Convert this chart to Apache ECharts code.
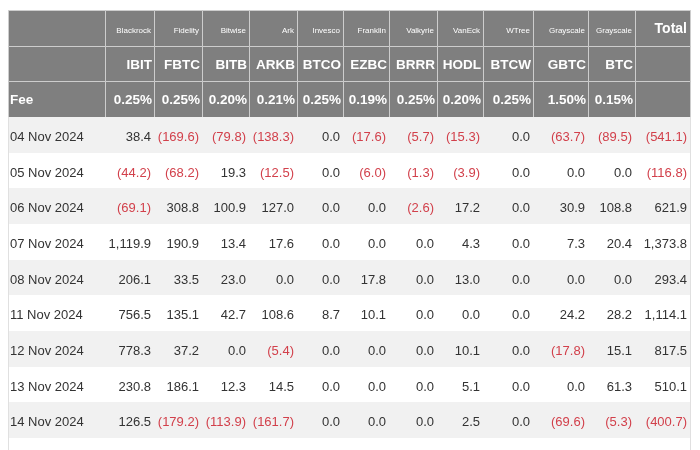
<!DOCTYPE html>
<html>
<head>
<meta charset="utf-8">
<script src="https://cdn.jsdelivr.net/npm/echarts@6/dist/echarts.min.js"></script>
<style>
html,body{margin:0;padding:0;background:#fff;}
#chart{width:700px;height:450px;}
</style>
</head>
<body>
<div id="chart"></div>
<script>
// ---- data ----
const dates = ['04 Nov 2024','05 Nov 2024','06 Nov 2024','07 Nov 2024','08 Nov 2024','11 Nov 2024','12 Nov 2024','13 Nov 2024','14 Nov 2024'];
const issuers = ['Blackrock','Fidelity','Bitwise','Ark','Invesco','Franklin','Valkyrie','VanEck','WTree','Grayscale','Grayscale'];
const tickers = ['IBIT','FBTC','BITB','ARKB','BTCO','EZBC','BRRR','HODL','BTCW','GBTC','BTC'];
const fees = ['0.25%','0.25%','0.20%','0.21%','0.25%','0.19%','0.25%','0.20%','0.25%','1.50%','0.15%'];
const IBIT = [38.4, -44.2, -69.1, 1119.9, 206.1, 756.5, 778.3, 230.8, 126.5];
const FBTC = [-169.6, -68.2, 308.8, 190.9, 33.5, 135.1, 37.2, 186.1, -179.2];
const BITB = [-79.8, 19.3, 100.9, 13.4, 23.0, 42.7, 0.0, 12.3, -113.9];
const ARKB = [-138.3, -12.5, 127.0, 17.6, 0.0, 108.6, -5.4, 14.5, -161.7];
const BTCO = [0.0, 0.0, 0.0, 0.0, 0.0, 8.7, 0.0, 0.0, 0.0];
const EZBC = [-17.6, -6.0, 0.0, 0.0, 17.8, 10.1, 0.0, 0.0, 0.0];
const BRRR = [-5.7, -1.3, -2.6, 0.0, 0.0, 0.0, 0.0, 0.0, 0.0];
const HODL = [-15.3, -3.9, 17.2, 4.3, 13.0, 0.0, 10.1, 5.1, 2.5];
const BTCW = [0.0, 0.0, 0.0, 0.0, 0.0, 0.0, 0.0, 0.0, 0.0];
const GBTC = [-63.7, 0.0, 30.9, 7.3, 0.0, 24.2, -17.8, 0.0, -69.6];
const BTC  = [-89.5, 0.0, 108.8, 20.4, 0.0, 28.2, 15.1, 61.3, -5.3];
const totals = [-541.1, -116.8, 621.9, 1373.8, 293.4, 1114.1, 817.5, 510.1, -400.7];
const flows = [IBIT, FBTC, BITB, ARKB, BTCO, EZBC, BRRR, HODL, BTCW, GBTC, BTC];

// ---- layout (column edges in px units along the x value axis) ----
const colEdges = [0, 97, 146, 194, 241, 289, 335, 381, 429, 475, 525, 580, 627, 682];
const FONT = '"Liberation Sans", Arial, Helvetica, sans-serif';
const HEAD_BG = '#7f7f7f', HEAD_LINE = '#cdcdcd', ROW_ALT = '#f1f1f1';
const TXT = '#333333', RED = '#d2404b', BORDER = '#e0e0e0';

function fmt(v) {
  const s = Math.abs(v).toLocaleString('en-US', {minimumFractionDigits: 1, maximumFractionDigits: 1});
  return v < 0 ? '(' + s + ')' : s;
}

// ---- cells ----
const cells = [];
const nCols = colEdges.length - 1;
for (let c = 0; c < nCols; c++) {
  let t0 = '', t1 = '', t2 = '';
  if (c === 0) { t2 = 'Fee'; }
  else if (c === nCols - 1) { t0 = 'Total'; }
  else { t0 = issuers[c - 1]; t1 = tickers[c - 1]; t2 = fees[c - 1]; }
  cells.push({col: c, row: 0, text: t0, kind: c === nCols - 1 ? 'headBig' : 'headSmall'});
  cells.push({col: c, row: 1, text: t1, kind: 'head'});
  cells.push({col: c, row: 2, text: t2, kind: c === 0 ? 'headLeft' : 'headFee'});
}
dates.forEach((d, i) => {
  const r = 3 + i;
  cells.push({col: 0, row: r, text: d, kind: 'date', alt: i % 2 === 0});
  flows.forEach((arr, j) => {
    cells.push({col: j + 1, row: r, text: fmt(arr[i]), neg: arr[i] < 0, kind: 'num', alt: i % 2 === 0});
  });
  cells.push({col: nCols - 1, row: r, text: fmt(totals[i]), neg: totals[i] < 0, kind: 'num', alt: i % 2 === 0});
});
for (let c = 0; c < nCols; c++) cells.push({col: c, row: 12, text: '', kind: 'blank', alt: false});

function renderItem(params, api) {
  const c = cells[params.dataIndex];
  const p0 = api.coord([colEdges[c.col], c.row]);
  const p1 = api.coord([colEdges[c.col + 1], c.row + 1]);
  const x0 = Math.round(p0[0]), x1 = Math.round(p1[0]);
  const y0 = Math.round(p0[1]), y1 = Math.round(p1[1]);
  const ym = (p0[1] + p1[1]) / 2;
  const children = [];
  if (c.row < 3) {
    children.push({type: 'rect', shape: {x: x0 + 0.5, y: y0 + 0.5, width: x1 - x0, height: y1 - y0},
      style: {fill: HEAD_BG, stroke: HEAD_LINE, lineWidth: 1}});
  } else {
    children.push({type: 'rect', shape: {x: x0, y: y0, width: x1 - x0, height: y1 - y0},
      style: {fill: c.alt ? ROW_ALT : '#ffffff'}});
    if (c.col === 0) children.push({type: 'line', shape: {x1: x0 + 0.5, y1: y0, x2: x0 + 0.5, y2: y1}, style: {stroke: BORDER, lineWidth: 1}});
    if (c.col === nCols - 1) children.push({type: 'line', shape: {x1: x1 + 0.5, y1: y0, x2: x1 + 0.5, y2: y1}, style: {stroke: BORDER, lineWidth: 1}});
  }
  if (c.text) {
    const st = {text: c.text, fontFamily: FONT, verticalAlign: 'middle'};
    if (c.kind === 'headSmall') {
      Object.assign(st, {x: x1 - 3, y: ym + 3, align: 'right', fill: '#ffffff', fontSize: 8});
    } else if (c.kind === 'headBig') {
      Object.assign(st, {x: x1 - 3, y: ym + 1, align: 'right', fill: '#ffffff', fontSize: 14, fontWeight: 'bold'});
    } else if (c.kind === 'head') {
      Object.assign(st, {x: x1 - 2, y: ym + 2, align: 'right', fill: '#ffffff', fontSize: 13.5, fontWeight: 'bold'});
    } else if (c.kind === 'headFee') {
      Object.assign(st, {x: x1 - 2, y: ym + 1.5, align: 'right', fill: '#ffffff', fontSize: 13.5, fontWeight: 'bold'});
    } else if (c.kind === 'headLeft') {
      Object.assign(st, {x: x0 + 2, y: ym + 1.5, align: 'left', fill: '#ffffff', fontSize: 13.5, fontWeight: 'bold'});
    } else if (c.kind === 'date') {
      Object.assign(st, {x: x0 + 2, y: ym + 2.5, align: 'left', fill: TXT, fontSize: 13});
    } else {
      Object.assign(st, {x: x1 - 3, y: ym + 2.5, align: 'right', fill: c.neg ? RED : TXT, fontSize: 13});
    }
    children.push({type: 'text', style: st});
  }
  return {type: 'group', children: children};
}

const chart = echarts.init(document.getElementById('chart'), null, {renderer: 'canvas'});
chart.setOption({
  animation: false,
  backgroundColor: '#ffffff',
  grid: {left: 8, right: 10, top: 10, bottom: 12},
  xAxis: {type: 'value', min: 0, max: colEdges[colEdges.length - 1], show: false},
  yAxis: {type: 'value', min: 0, max: 12, inverse: true, show: false},
  series: [{
    type: 'custom',
    renderItem: renderItem,
    clip: false,
    data: cells.map(c => [c.col, c.row]),
    encode: {x: 0, y: 1}
  }]
});
</script>
</body>
</html>
